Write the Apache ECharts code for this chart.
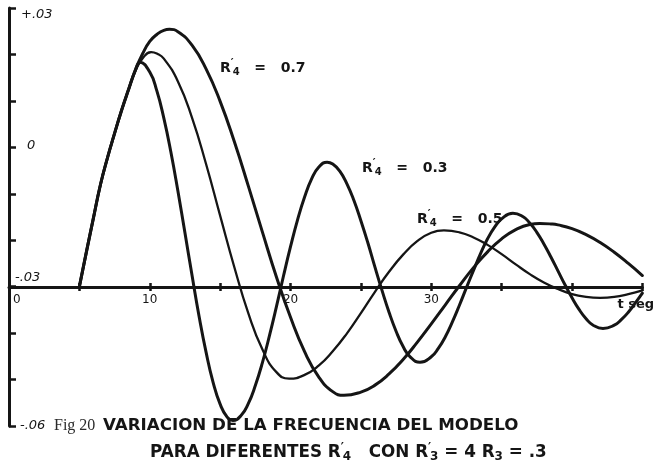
<!DOCTYPE html>
<html>
<head>
<meta charset="utf-8">
<script src="https://cdn.jsdelivr.net/npm/echarts@6/dist/echarts.min.js"></script>
<style>
  html, body { margin: 0; padding: 0; background: #fff; }
  #chart { width: 657px; height: 472px; }
</style>
</head>
<body>
<div id="chart"></div>
<script>
// Response curves [t (s), value] for each R'4
const curveR4_03 = [
  [5,-0.0300],[5.5,-0.0225],[6,-0.0152],[6.5,-0.0080],[7,-0.0022],[7.5,0.0030],[8,0.0080],[8.5,0.0125],
  [9,0.0168],[9.3,0.0183],[10,0.0162],[10.5,0.0122],[11,0.0063],[11.5,-0.0010],[12,-0.0094],[12.5,-0.0184],
  [13,-0.0275],[13.5,-0.0363],[14,-0.0441],[14.5,-0.0506],[15,-0.0553],[15.5,-0.0581],[15.9,-0.0588],
  [16.5,-0.0577],[17,-0.0552],[17.5,-0.0513],[18,-0.0464],[18.5,-0.0406],[19,-0.0343],[19.5,-0.0277],
  [20,-0.0214],[20.5,-0.0156],[21,-0.0107],[21.5,-0.0068],[22,-0.0043],[22.6,-0.0032],[23,-0.0036],
  [23.5,-0.0051],[24,-0.0078],[24.5,-0.0114],[25,-0.0158],[25.5,-0.0206],[26,-0.0258],[26.5,-0.0308],
  [27,-0.0355],[27.5,-0.0396],[28,-0.0429],[28.5,-0.0451],[29.2,-0.0463],[30,-0.0451],[30.5,-0.0433],
  [31,-0.0408],[31.5,-0.0376],[32,-0.0340],[32.5,-0.0302],[33,-0.0265],[33.5,-0.0229],[34,-0.0197],
  [34.5,-0.0172],[35,-0.0154],[35.8,-0.0142],[36.5,-0.0149],[37,-0.0163],[37.5,-0.0183],[38,-0.0208],
  [38.5,-0.0236],[39,-0.0266],[39.5,-0.0296],[40,-0.0324],[40.5,-0.0349],[41,-0.0369],[41.5,-0.0383],
  [42.2,-0.0390],[43,-0.0383],[43.5,-0.0371],[44,-0.0355],[44.5,-0.0335],[45,-0.0314]
];
const curveR4_05 = [
  [5,-0.0300],[5.5,-0.0225],[6,-0.0152],[6.5,-0.0080],[7,-0.0022],[7.5,0.0030],[8,0.0080],[8.5,0.0125],
  [9,0.0166],[9.5,0.0192],[10.1,0.0205],[10.5,0.0202],[11,0.0191],[12,0.0142],[13,0.0064],[14,-0.0036],
  [15,-0.0147],[16,-0.0257],[17,-0.0357],[18,-0.0435],[19,-0.0484],[19.9,-0.0498],[21,-0.0490],
  [22,-0.0470],[23,-0.0439],[24,-0.0401],[25,-0.0357],[26,-0.0311],[27,-0.0268],[28,-0.0231],
  [29,-0.0202],[30,-0.0184],[30.9,-0.0179],[32,-0.0183],[33,-0.0194],[34,-0.0210],[35,-0.0230],
  [36,-0.0252],[37,-0.0273],[38,-0.0291],[39,-0.0305],[40,-0.0316],[41,-0.0322],[42,-0.0324],
  [43,-0.0322],[44,-0.0316],[45,-0.0308]
];
const curveR4_07 = [
  [5,-0.0300],[5.5,-0.0225],[6,-0.0152],[6.5,-0.0080],[7,-0.0022],[7.5,0.0030],[8,0.0080],[8.5,0.0125],
  [9,0.0168],[9.5,0.0202],[10,0.0228],[10.5,0.0243],[11,0.0252],[11.4,0.0254],[12,0.0249],[13,0.0220],
  [14,0.0169],[15,0.0099],[16,0.0013],[17,-0.0083],[18,-0.0182],[19,-0.0279],[20,-0.0366],[21,-0.0440],
  [22,-0.0494],[23,-0.0526],[23.8,-0.0534],[25,-0.0527],[26,-0.0512],[27,-0.0488],[28,-0.0457],
  [29,-0.0420],[30,-0.0380],[31,-0.0339],[32,-0.0298],[33,-0.0259],[34,-0.0225],[35,-0.0197],
  [36,-0.0177],[37,-0.0166],[37.7,-0.0164],[38.5,-0.0165],[39,-0.0167],[40,-0.0175],[41,-0.0188],
  [42,-0.0205],[43,-0.0226],[44,-0.0250],[45,-0.0276]
];

// Axis labelling
const xLabelValues = [0, 10, 20, 30];
const xAxisName = 't seg';
const yLabelText = { '3': '+.03', '0': '0', '-3': '-.03', '-6': '-.06' };
const yLabelStyle = { '3': 'top', '0': 'zero', '-3': 'mid', '-6': 'bot' };

// Curve captions (R'4 values) and figure caption
const curveNames = ['0.7', '0.3', '0.5'];
const figNumber = 'Fig 20';
const captionLine1 = 'VARIACION DE LA FRECUENCIA DEL MODELO';

const ink = '#151515';
const sans = 'DejaVu Sans';

const labelRich = {
  r: { fontFamily: sans, fontWeight: 'bold', fontSize: 14, fill: ink },
  p: { fontFamily: sans, fontWeight: 'bold', fontSize: 11, fill: ink, width: 2, padding: [0, 0, 9, 0] },
  s: { fontFamily: sans, fontWeight: 'bold', fontSize: 10, fill: ink, padding: [8, 0, 0, 0] },
  t: { fontFamily: sans, fontWeight: 'bold', fontSize: 14, fill: ink }
};
const capRich = {
  b: { fontFamily: sans, fontWeight: 'bold', fontSize: 16.8, fill: ink },
  p: { fontFamily: sans, fontWeight: 'bold', fontSize: 12, fill: ink, width: 2, padding: [0, 0, 10, 0] },
  s: { fontFamily: sans, fontWeight: 'bold', fontSize: 12, fill: ink, padding: [8, 0, 0, 0] }
};

function rLabel(val) {
  return '{r|R}{p|\u2032}{s|4}{t|   =   ' + val + '}';
}
const captionLine2 = '{b|PARA DIFERENTES R}{p|\u2032}{s|4}{b|   CON R}{p|\u2032}{s|3}{b| = 4 R}{s|3}{b| = .3}';

const chart = echarts.init(document.getElementById('chart'), null, { renderer: 'canvas' });

const lineSeries = (data, width) => ({
  type: 'line',
  data: data,
  showSymbol: false,
  smooth: 0.5,
  lineStyle: { color: ink, width: width, cap: 'round', join: 'round' },
  silent: true
});

chart.setOption({
  animation: false,
  backgroundColor: '#ffffff',
  grid: { left: 9, right: 13.5, top: 8, bottom: 46 },
  xAxis: [
    {
      type: 'value', min: 0, max: 45, interval: 5,
      position: 'bottom', offset: -139,
      axisLine: { show: true, onZero: false, lineStyle: { color: ink, width: 3 } },
      axisTick: { show: true, inside: false, length: 4, lineStyle: { color: ink, width: 2.5 } },
      axisLabel: {
        show: true, margin: 7, color: ink, fontFamily: sans, fontSize: 12,
        alignMinLabel: 'left',
        formatter: v => {
          const r = Math.round(v);
          if (xLabelValues.indexOf(r) < 0) return '';
          return r === 0 ? '{z|0}' : String(r);
        },
        rich: { z: { fontFamily: sans, fontSize: 12, color: ink, padding: [0, 0, 0, 4] } }
      },
      splitLine: { show: false },
      name: xAxisName, nameLocation: 'end', nameGap: -25,
      nameTextStyle: {
        color: ink, fontFamily: sans, fontWeight: 'bold', fontSize: 13,
        align: 'left', verticalAlign: 'top', padding: [11, 0, 0, 0]
      }
    },
    {
      type: 'value', min: 0, max: 45, interval: 5,
      position: 'bottom', offset: -139,
      axisLine: { show: false, onZero: false },
      axisTick: { show: true, inside: true, length: 4, lineStyle: { color: ink, width: 2.5 } },
      axisLabel: { show: false },
      splitLine: { show: false }
    }
  ],
  yAxis: {
    type: 'value', min: -0.06, max: 0.03, interval: 0.01,
    position: 'left',
    axisLine: { show: true, onZero: false, lineStyle: { color: ink, width: 3 } },
    axisTick: { show: true, inside: true, length: 7, lineStyle: { color: ink, width: 2.5 } },
    splitLine: { show: false },
    axisLabel: {
      inside: true, margin: 6,
      formatter: v => {
        const k = String(Math.round(v * 100));
        return yLabelText[k] ? '{' + yLabelStyle[k] + '|' + yLabelText[k] + '}' : '';
      },
      rich: {
        top:  { fontFamily: sans, fontStyle: 'italic', fontSize: 13, color: ink, padding: [14, 0, 0, 6] },
        zero: { fontFamily: sans, fontStyle: 'italic', fontSize: 13, color: ink, padding: [0, 0, 4, 12] },
        mid:  { fontFamily: sans, fontStyle: 'italic', fontSize: 13, color: ink, padding: [0, 0, 18, 0] },
        bot:  { fontFamily: sans, fontStyle: 'italic', fontSize: 13, color: ink, padding: [0, 0, 0, 5] }
      }
    }
  },
  series: [
    lineSeries(curveR4_07, 3),
    lineSeries(curveR4_03, 3),
    lineSeries(curveR4_05, 2.3)
  ],
  graphic: [
    { type: 'text', left: 220, top: 58, style: { text: rLabel(curveNames[0]), rich: labelRich } },
    { type: 'text', left: 362, top: 158, style: { text: rLabel(curveNames[1]), rich: labelRich } },
    { type: 'text', left: 417, top: 209, style: { text: rLabel(curveNames[2]), rich: labelRich } },
    { type: 'text', left: 54, top: 418, style: { text: figNumber, font: '16px "Liberation Serif"', fill: '#2a2a2a' } },
    { type: 'text', left: 103, top: 417, style: { text: captionLine1, font: 'bold 16.7px "DejaVu Sans"', fill: ink } },
    { type: 'text', left: 150, top: 442, style: { text: captionLine2, rich: capRich } }
  ]
});
</script>
</body>
</html>
